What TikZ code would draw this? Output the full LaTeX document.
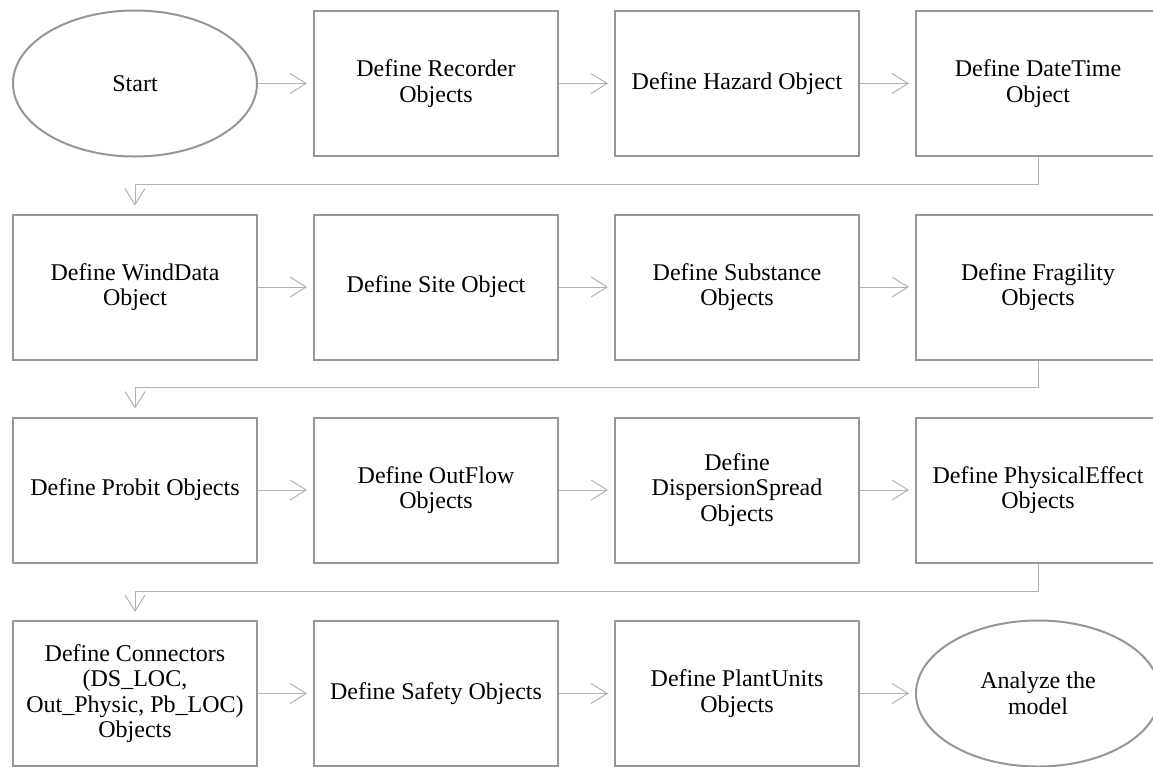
\documentclass[tikz,border=0pt]{standalone}
\usepackage{fontspec}
\setmainfont{Liberation Serif}
\usetikzlibrary{shapes.geometric,arrows.meta}
\definecolor{boxgray}{RGB}{150,150,150}
\definecolor{linegray}{RGB}{178,178,178}
\tikzset{
  stepbox/.style={draw=boxgray,line width=2pt,minimum width=244pt,minimum height=145pt,
    inner sep=0pt,align=center,font=\fontsize{24}{25.5}\selectfont,text=black},
  term/.style={stepbox,ellipse,minimum width=244pt,minimum height=146pt},
  flow/.style={draw=linegray,line width=1pt,-{Straight Barb[length=16pt,width=20pt,line width=1pt]}},
}
\begin{document}
\begin{tikzpicture}[x=1pt,y=-1pt]
\useasboundingbox (0,0) rectangle (1153,766);
% row 1
\node[term]    (n1)  at (135,83.5)  {Start};
\node[stepbox] (n2)  at (436,83.5)  {Define Recorder\\Objects};
\node[stepbox] (n3)  at (737,83.5)  {Define Hazard Object};
\node[stepbox] (n4)  at (1038,83.5) {Define DateTime\\Object};
% row 2
\node[stepbox] (n5)  at (135,287)   {Define WindData\\Object};
\node[stepbox] (n6)  at (436,287)   {Define Site Object};
\node[stepbox] (n7)  at (737,287)   {Define Substance\\Objects};
\node[stepbox] (n8)  at (1038,287)  {Define Fragility\\Objects};
% row 3
\node[stepbox] (n9)  at (135,490)   {Define Probit Objects};
\node[stepbox] (n10) at (436,490)   {Define OutFlow\\Objects};
\node[stepbox] (n11) at (737,490)   {Define\\DispersionSpread\\Objects};
\node[stepbox] (n12) at (1038,490)  {Define PhysicalEffect\\Objects};
% row 4
\node[stepbox] (n13) at (135,693.5) {Define Connectors\\(DS\_LOC,\\Out\_Physic, Pb\_LOC)\\Objects};
\node[stepbox] (n14) at (436,693.5) {Define Safety Objects};
\node[stepbox] (n15) at (737,693.5) {Define PlantUnits\\Objects};
\node[term]    (n16) at (1038,693.5) {Analyze the\\model};
% horizontal connectors
\foreach \a/\b in {n1/n2,n2/n3,n3/n4,n5/n6,n6/n7,n7/n8,n9/n10,n10/n11,n11/n12,n13/n14,n14/n15,n15/n16}
  \draw[flow] (\a.east) -- ([xshift=-6pt]\b.west);
% row-to-row connectors
\draw[flow] (n4.south) -- ++(0,27) -| ([yshift=8pt]n5.north);
\draw[flow] (n8.south) -- ++(0,27) -| ([yshift=8pt]n9.north);
\draw[flow] (n12.south) -- ++(0,28) -| ([yshift=8pt]n13.north);
\end{tikzpicture}
\end{document}
